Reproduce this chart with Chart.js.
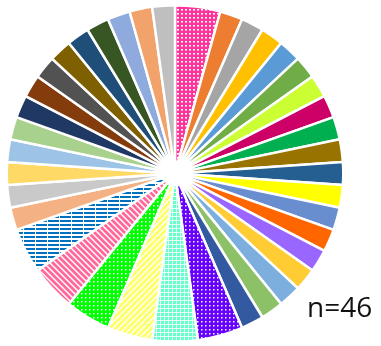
<!DOCTYPE html>
<html>
<head>
<meta charset="utf-8">
<script src="https://cdn.jsdelivr.net/npm/chart.js@4.4.1/dist/chart.umd.min.js"></script>
<style>
  html, body { margin: 0; padding: 0; background: #fff; }
  #wrap { position: relative; width: 381px; height: 346px; }
  #etiqueta-n {
    position: absolute; left: 307px; top: 287px;
    font-family: "Open Sans", "Liberation Sans", sans-serif; font-size: 28px; color: #111;
  }
</style>
</head>
<body>
<div id="wrap">
  <canvas id="grafic" width="381" height="346"></canvas>
  <div id="etiqueta-n">n=46</div>
</div>
<script>
// categories (one per slice, clockwise from 12 o'clock)
const categories = [
  'C01','C02','C03','C04','C05','C06','C07','C08','C09','C10',
  'C11','C12','C13','C14','C15','C16','C17','C18','C19','C20',
  'C21','C22','C23','C24','C25','C26','C27','C28','C29','C30',
  'C31','C32','C33','C34','C35','C36','C37','C38','C39'
];

// count per slice (total 46)
const comptes = [
  2, 1, 1, 1, 1, 1, 1, 1, 1, 1,
  1, 1, 1, 1, 1, 1, 1, 1, 1, 2,
  2, 2, 2, 2, 2, 1, 1, 1, 1, 1,
  1, 1, 1, 1, 1, 1, 1, 1, 1
];

// fill colours; entries with a pattern name get a textured fill
const colors = [
  '#FF3399','#ED7D31','#A5A5A5','#FFC000','#5B9BD5','#70AD47','#CCFF33','#CC0066','#00B050','#997300',
  '#255E91','#FFFF00','#698ED0','#FF6600','#9966FF','#FFCC33','#7CAFDD','#8CC168','#335AA1','#6600FF',
  '#66FFCC','#FFFF66','#00FF00','#FF6699','#0070C0','#F4B183','#C9C9C9','#FFD966','#9DC3E6','#A9D18E',
  '#203864','#843C0C','#525252','#7F6000','#1F4E79','#375623','#8FAADC','#F1A36B','#BFBFBF'
];

const patrons = {
  0: 'quadres', 19: 'punts', 20: 'reixa', 21: 'diagonal', 22: 'punts', 23: 'diagonal2', 24: 'horitzontal'
};

// build a small repeating tile for a textured slice
function crearPatro(color, tipus) {
  const c = document.createElement('canvas');
  const ctx = c.getContext('2d');
  if (tipus === 'quadres') {
    c.width = 4; c.height = 4;
    ctx.fillStyle = color; ctx.fillRect(0, 0, 4, 4);
    ctx.fillStyle = '#ffffff'; ctx.fillRect(1, 1, 2, 1.6);
  } else if (tipus === 'punts') {
    c.width = 4; c.height = 4;
    ctx.fillStyle = color; ctx.fillRect(0, 0, 4, 4);
    ctx.fillStyle = '#ffffff'; ctx.fillRect(1, 1, 1.5, 1.5);
  } else if (tipus === 'reixa') {
    c.width = 4; c.height = 4;
    ctx.fillStyle = color; ctx.fillRect(0, 0, 4, 4);
    ctx.fillStyle = 'rgba(255,255,255,0.8)';
    ctx.fillRect(0, 0, 4, 1); ctx.fillRect(0, 0, 1, 4);
  } else if (tipus === 'diagonal' || tipus === 'diagonal2') {
    c.width = 6; c.height = 6;
    ctx.fillStyle = '#ffffff'; ctx.fillRect(0, 0, 6, 6);
    ctx.strokeStyle = color; ctx.lineWidth = 2.8;
    ctx.beginPath();
    if (tipus === 'diagonal') {
      ctx.moveTo(-1, 7); ctx.lineTo(7, -1);
      ctx.moveTo(-4, 4); ctx.lineTo(4, -4);
      ctx.moveTo(2, 10); ctx.lineTo(10, 2);
    } else {
      ctx.moveTo(-1, -1); ctx.lineTo(7, 7);
      ctx.moveTo(-4, 2); ctx.lineTo(4, 10);
      ctx.moveTo(2, -4); ctx.lineTo(10, 4);
    }
    ctx.stroke();
  } else if (tipus === 'horitzontal') {
    c.width = 12; c.height = 4;
    ctx.fillStyle = '#ffffff'; ctx.fillRect(0, 0, 12, 4);
    ctx.fillStyle = color; ctx.fillRect(0, 0, 11, 2);
  }
  return ctx.createPattern(c, 'repeat');
}

const fons = colors.map((col, i) => patrons[i] ? crearPatro(col, patrons[i]) : col);

new Chart(document.getElementById('grafic'), {
  type: 'pie',
  data: {
    labels: categories,
    datasets: [{
      data: comptes,
      backgroundColor: fons,
      borderColor: '#ffffff',
      borderWidth: 2.5
    }]
  },
  options: {
    responsive: false,
    animation: false,
    cutout: '7%',
    layout: { padding: { left: 5, right: 36, top: 4, bottom: 3 } },
    plugins: {
      legend: { display: false },
      tooltip: { enabled: false }
    }
  }
});
</script>
</body>
</html>
